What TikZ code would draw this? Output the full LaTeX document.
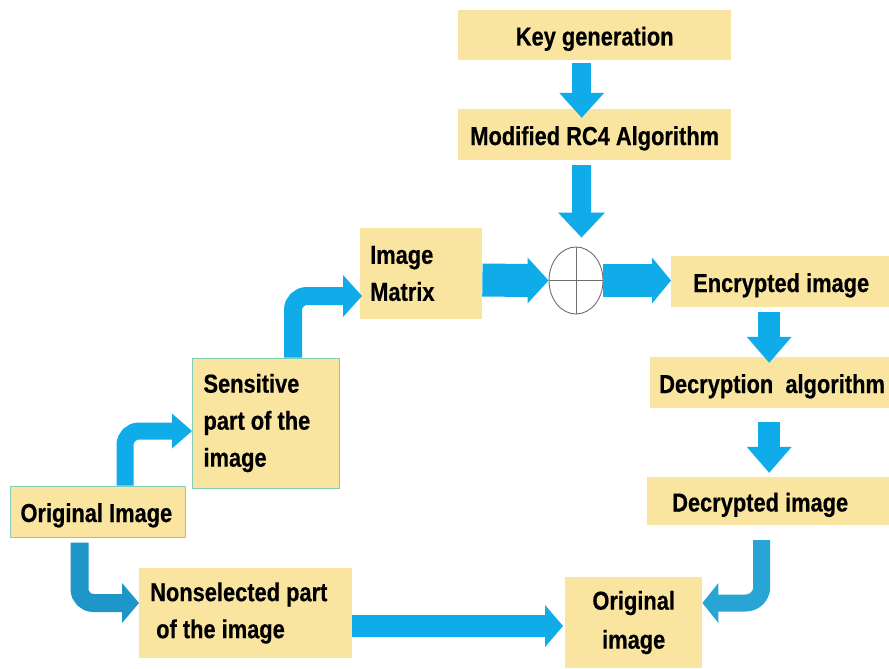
\documentclass[tikz,border=0pt]{standalone}
\usepackage{fontspec}
\setmainfont{Liberation Sans}[FakeStretch=0.84, BoldFeatures={FakeBold=0.5}]
\usetikzlibrary{calc,shapes.geometric}
\definecolor{boxfill}{RGB}{250,229,160}
\definecolor{boxline}{RGB}{130,205,185}
\definecolor{arrowblue}{RGB}{16,172,234}
\definecolor{arrowdark}{RGB}{30,150,200}
\definecolor{arrowmid}{RGB}{40,165,212}
\definecolor{xorline}{RGB}{110,110,110}
\newcommand{\myDown}[6]{%
  \draw[line width=#3, color=#6] (#1) -- ($(#2)+(0,-#5+0.5)$);
  \fill[#6] ($(#2)+(-#4,-#5)$) -- (#2) -- ($(#2)+(#4,-#5)$) -- cycle;}
\newcommand{\myRight}[6]{%
  \draw[line width=#3, color=#6] (#1) -- ($(#2)+(-#5+0.5,0)$);
  \fill[#6] ($(#2)+(-#5,-#4)$) -- (#2) -- ($(#2)+(-#5,#4)$) -- cycle;}
\begin{document}
\begin{tikzpicture}[x=1pt,y=-1pt,
  box/.style={rectangle, fill=boxfill, inner ysep=0pt, anchor=west,
    font=\bfseries\fontsize{26}{37}\selectfont},
  single/.style={text height=24pt, text depth=3pt},
  framed/.style={draw=boxline, line width=1pt},
  xorstyle/.style={ellipse, draw=xorline, fill=white, line width=0.9pt,
    minimum width=54pt, minimum height=67pt, inner sep=0pt}]
\useasboundingbox[fill=white] (0,0) rectangle (889,669);

% boxes
\node[box, single, inner xsep=10pt, minimum height=50pt] (key) at (458,35) {\makebox[253pt][c]{Key generation}};
\node[box, single, inner xsep=10pt, minimum height=51pt] (rc4) at (458,134.5) {\makebox[253pt][c]{Modified RC4 Algorithm}};
\node[box, align=left, inner xsep=10pt, text width=102pt, minimum height=91pt] (mat) at (360,273.5) {Image\\Matrix};
\node[xorstyle] (xor) at (576,280.5) {};
\draw[xorline, line width=0.9pt] (xor.north) -- (xor.south);
\draw[xorline, line width=0.9pt] (xor.west) -- (xor.east);
\node[box, single, inner xsep=22pt, minimum height=51pt] (enc) at (671,281.5) {\makebox[200pt][l]{Encrypted image}};
\node[box, single, inner xsep=9pt, minimum height=51pt] (dec) at (650,382.5) {\makebox[244pt][l]{Decryption\ \ algorithm}};
\node[box, single, inner xsep=25pt, minimum height=48pt] (dcd) at (647,501) {\makebox[200pt][l]{Decrypted image}};
\node[box, align=center, inner xsep=10pt, text width=117pt, minimum height=91pt, font=\bfseries\fontsize{26}{39}\selectfont] (oimg) at (565,622.5) {Original\\image};
\node[box, inner xsep=11pt, minimum height=90pt, align=left] (nons) at (139,613) {\makebox[191pt][l]{Nonselected part}\\\makebox[191pt][l]{\hspace*{6pt}of the image}};
\node[box, framed, single, inner xsep=10pt, minimum height=51pt] (orig) at (10,511.5) {\makebox[155pt][l]{Original Image}};
\node[box, framed, align=left, inner xsep=11pt, minimum height=130pt] (sens) at (192,423) {\makebox[125pt][l]{Sensitive}\\\makebox[125pt][l]{part of the}\\\makebox[125pt][l]{image}};

% straight arrows
\myDown{$(key.south)+(-13,3)$}{$(rc4.north)+(-13,9)$}{19pt}{22.5}{25}{arrowblue}
\myDown{$(rc4.south)+(-13,5)$}{$(xor.north)+(5.5,-9)$}{19pt}{23.5}{25}{arrowblue}
\myRight{$(mat.east)+(0,6.5)$}{xor.west}{33pt}{23}{21}{arrowblue}
\myRight{xor.east}{$(enc.west)+(0,-1)$}{33pt}{23}{19}{arrowblue}
\myDown{$(enc.south)+(-24,5)$}{$(dec.north)+(-12,6)$}{22pt}{22.5}{26}{arrowblue}
\myDown{$(dec.south)+(-12,14)$}{$(dcd.north)+(-3,-4)$}{22pt}{22.5}{26}{arrowblue}
\myRight{$(nons.east)+(0,13)$}{$(oimg.west)+(-2,3.5)$}{22pt}{21}{18}{arrowblue}

% curved arrows
\coordinate (c7t) at ($(sens.west)+(0,8)$);
\draw[line width=17pt, arrowblue, rounded corners=14pt] ($(orig.north)+(27,0)$) |- ($(c7t)+(-19.5,0)$);
\fill[arrowblue] ($(c7t)+(-20,-17.5)$) -- (c7t) -- ($(c7t)+(-20,17.5)$) -- cycle;

\coordinate (c8t) at ($(nons.west)+(0,-10)$);
\draw[line width=18pt, arrowdark, rounded corners=14pt] ($(orig.south)+(-18.5,5)$) |- ($(c8t)+(-16.5,0)$);
\fill[arrowdark] ($(c8t)+(-17,-20)$) -- (c8t) -- ($(c8t)+(-17,20)$) -- cycle;

\coordinate (c9t) at ($(mat.west)+(2,22.5)$);
\draw[line width=18pt, arrowblue, rounded corners=14pt] ($(sens.north)+(27,0)$) |- ($(c9t)+(-18.5,0)$);
\fill[arrowblue] ($(c9t)+(-19,-21)$) -- (c9t) -- ($(c9t)+(-19,21)$) -- cycle;

\coordinate (c11t) at ($(oimg.east)+(0,-19.5)$);
\draw[line width=17pt, arrowmid, rounded corners=16pt] ($(dcd.south)+(-10.5,15)$) |- ($(c11t)+(15.5,0)$);
\fill[arrowmid] ($(c11t)+(16,-20)$) -- (c11t) -- ($(c11t)+(16,20)$) -- cycle;
\end{tikzpicture}
\end{document}
